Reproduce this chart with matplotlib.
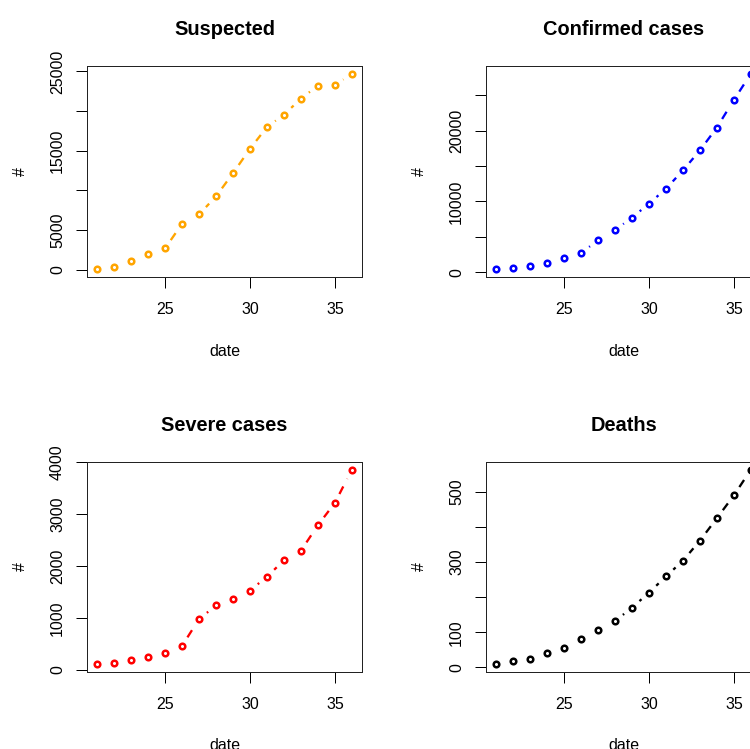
import numpy as np
import matplotlib
matplotlib.use('Agg')
import matplotlib.pyplot as plt

plt.rcParams['font.family'] = ['Liberation Sans', 'DejaVu Sans']
plt.rcParams['lines.scale_dashes'] = False

# data: day of the outbreak (Jan 21 .. Feb 5)
date = list(range(21, 37))
suspected = [60, 393, 1072, 1965, 2684, 5794, 6973, 9239, 12167, 15238,
             17988, 19544, 21558, 23214, 23260, 24702]
confirmed = [440, 571, 830, 1287, 1975, 2744, 4515, 5974, 7711, 9692,
             11791, 14380, 17205, 20438, 24324, 28018]
severe = [105, 130, 177, 237, 324, 461, 976, 1239, 1370, 1527,
          1795, 2110, 2296, 2788, 3219, 3859]
deaths = [9, 17, 25, 41, 56, 80, 106, 132, 170, 213,
          259, 304, 361, 425, 490, 563]

titles = ['Suspected', 'Confirmed cases', 'Severe cases', 'Deaths']
series = [suspected, confirmed, severe, deaths]
colors = ['orange', 'blue', 'red', 'black']
yticks = [[0, 5000, 10000, 15000, 20000, 25000],
          [0, 5000, 10000, 15000, 20000, 25000],
          [0, 1000, 2000, 3000, 4000],
          [0, 100, 200, 300, 400, 500]]
ylab_shown = [[0, 5000, 15000, 25000],
              [0, 10000, 20000],
              [0, 1000, 2000, 3000, 4000],
              [0, 100, 300, 500]]
xticks = [25, 30, 35]

W, H = 750, 749
PX = 0.72  # points per pixel at dpi 100
# panel boxes in pixels (left, top, right, bottom); right column runs past the edge
boxes = [(87, 66, 362, 277), (486, 66, 761, 277),
         (87, 462, 362, 672), (486, 462, 761, 672)]

fig = plt.figure(figsize=(W / 100, H / 100), dpi=100)


def r_range(v):
    lo, hi = min(v), max(v)
    pad = 0.04 * (hi - lo)
    return lo - pad, hi + pad


def plot_b(ax, x, y, color, gap=10):
    # R's type="b": dashed segments that stop short of each point
    pts = ax.transData.transform(np.column_stack([x, y]))
    inv = ax.transData.inverted()
    for p0, p1 in zip(pts[:-1], pts[1:]):
        d = p1 - p0
        L = np.hypot(d[0], d[1])
        if L <= 2 * gap:
            continue
        u = d / L
        a, b = inv.transform([p0 + gap * u, p1 - gap * u])
        ax.plot([a[0], b[0]], [a[1], b[1]], color=color, lw=2.3 * PX,
                dashes=(8.5 * PX, 8.5 * PX), dash_capstyle='butt',
                solid_capstyle='butt')
    ax.plot(x, y, 'o', mfc='none', mec=color, ms=5.6 * PX, mew=2.5 * PX)


for i in range(4):
    l, t, r, b = boxes[i]
    ax = fig.add_axes([l / W, 1 - b / H, (r - l) / W, (b - t) / H])
    ax.set_xlim(r_range(date))
    ax.set_ylim(r_range(series[i]))
    plot_b(ax, date, series[i], colors[i])

    ax.set_xticks(xticks)
    ax.set_yticks(yticks[i])
    ax.set_yticklabels([str(v) if v in ylab_shown[i] else '' for v in yticks[i]])
    ax.tick_params(direction='out', length=11 * PX, width=1.0 * PX,
                   labelsize=11.5, colors='black')
    ax.tick_params(axis='x', pad=14 * PX)
    ax.tick_params(axis='y', pad=11 * PX)
    plt.setp(ax.get_yticklabels(), rotation=90, va='center')
    for s in ax.spines.values():
        s.set_linewidth(1.0 * PX)
        s.set_color('#222222')

    ax.set_title(titles[i], fontsize=14.4, fontweight='bold', pad=31.3 * PX)
    ax.set_xlabel('date', fontsize=11.5, labelpad=26.5 * PX)
    ax.set_ylabel('#', fontsize=11.5, labelpad=22 * PX)

fig.savefig('out.png', dpi=100)
